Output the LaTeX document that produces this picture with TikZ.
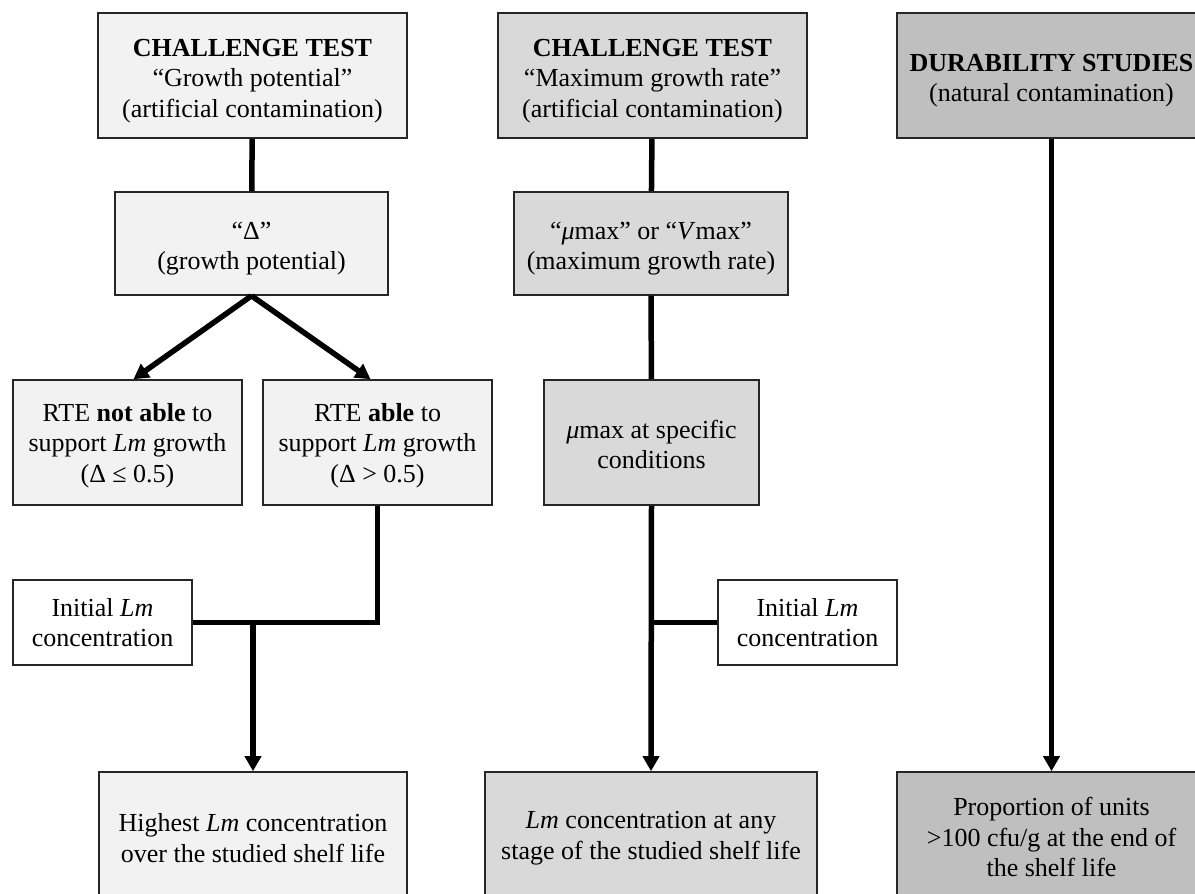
\documentclass[tikz,border=0pt]{standalone}
\usepackage{fontspec}
\setmainfont{Liberation Serif}
\usetikzlibrary{arrows.meta}
\definecolor{paleA}{HTML}{F2F2F2}
\definecolor{paleB}{HTML}{D9D9D9}
\definecolor{paleC}{HTML}{BFBFBF}
\newcommand{\padtop}[1]{\rule{0pt}{#1}}

\begin{document}
\begin{tikzpicture}[x=1pt,y=-1pt,
	box/.style={rectangle,draw=black!85,line width=1.6pt,inner sep=0pt,align=center,font=\fontsize{26}{30.5}\selectfont},
	link/.style={line width=5.5pt},
	arr/.style={line width=5.5pt,-{Triangle[length=15pt,width=16pt]}}]
	\useasboundingbox (0,0) rectangle (1195,894);
	\clip (0,0) rectangle (1195,894);
	\node (ctA) at (252.5,75.5) [box,fill=paleA,minimum width=309,minimum height=125] {\padtop{28pt}\textbf{CHALLENGE TEST}\\“Growth potential”\\(artificial contamination)};
	\node (delta) at (251.5,243.5) [box,fill=paleA,minimum width=273,minimum height=103] {\padtop{28pt}“Δ”\\(growth potential)};
	\node (notable) at (127.5,442.5) [box,fill=paleA,minimum width=229,minimum height=125] {\padtop{24pt}RTE \textbf{not able} to\\support \textit{Lm} growth\\(Δ ≤ 0.5)};
	\node (able) at (377.5,442.5) [box,fill=paleA,minimum width=229,minimum height=125] {\padtop{24pt}RTE \textbf{able} to\\support \textit{Lm} growth\\(Δ > 0.5)};
	\node (initL) at (102.5,622.5) [box,fill=white,minimum width=179,minimum height=85] {Initial \textit{Lm}\\concentration};
	\node (high) at (253,838) [box,fill=paleA,minimum width=308,minimum height=132] {Highest \textit{Lm} concentration\\over the studied shelf life};
	\node (ctB) at (652.5,75.5) [box,fill=paleB,minimum width=309,minimum height=125] {\padtop{28pt}\textbf{CHALLENGE TEST}\\“Maximum growth rate”\\(artificial contamination)};
	\node (mu) at (651,243.5) [box,fill=paleB,minimum width=274,minimum height=103] {\padtop{28pt}“\textit{μ}max” or “\textit{V}max”\\(maximum growth rate)};
	\node (muspec) at (651.5,442.5) [box,fill=paleB,minimum width=215,minimum height=125] {\padtop{22pt}\textit{μ}max at specific\\conditions};
	\node (initR) at (807.5,622.5) [box,fill=white,minimum width=179,minimum height=85] {Initial \textit{Lm}\\concentration};
	\node (anystage) at (651,838) [box,fill=paleB,minimum width=332,minimum height=132] {\textit{Lm} concentration at any\\stage of the studied shelf life};
	\node (dur) at (1051.5,75.5) [box,fill=paleC,minimum width=309,minimum height=125] {\padtop{28pt}\textbf{DURABILITY STUDIES}\\(natural contamination)};
	\node (prop) at (1051.5,837) [box,fill=paleC,minimum width=309,minimum height=130] {Proportion of units\\>100 cfu/g at the end of\\the shelf life};
	\draw [link] (ctA) -- (delta);
	\draw [arr] (delta.south) -- ([xshift=6pt]notable.north);
	\draw [arr] (delta.south) -- ([xshift=-7pt]able.north);
	\draw [link] (able.south) |- (initL.east);
	\draw [arr] (initL.east -| high.north) -- (high.north);
	\draw [link] (ctB) -- (mu);
	\draw [link] (mu) -- (muspec);
	\draw [arr] (muspec.south) -- (anystage.north);
	\draw [link] (initR.west) -- (initR.west -| muspec.south);
	\draw [arr] (dur.south) -- (prop.north);
\end{tikzpicture}
\end{document}
